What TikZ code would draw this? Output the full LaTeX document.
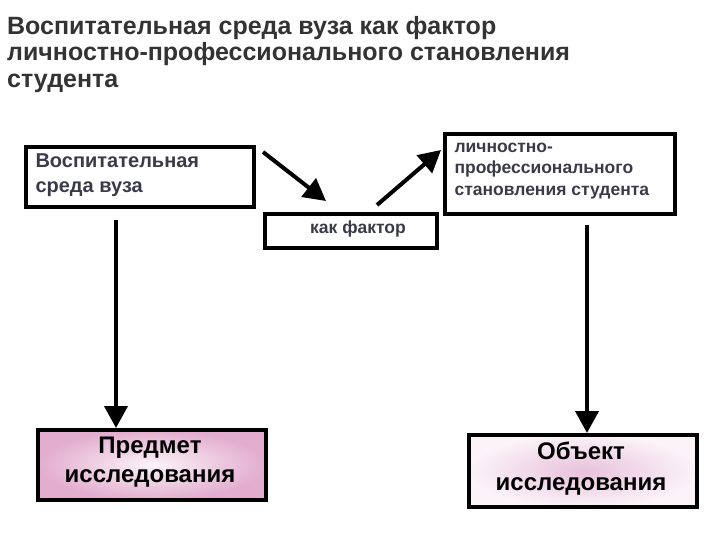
\documentclass[tikz,border=0pt]{standalone}
\usepackage{fontspec}
\setmainfont{Liberation Sans}
\usetikzlibrary{arrows.meta}
\definecolor{titlegray}{HTML}{333333}
\definecolor{boxtext}{HTML}{3A3A48}
\definecolor{pinkA}{HTML}{E4B6D6}
\definecolor{pinkB}{HTML}{FBF3F8}
\tikzset{
  box/.style={draw=black, line width=4pt, rectangle, anchor=north west, inner sep=0pt},
  arr/.style={line width=4pt, -{Triangle[length=22pt,width=23pt]}},
  boxlabel/.style={font=\bfseries\fontsize{20}{25}\selectfont, color=boxtext, align=left, anchor=west},
  pinkbox/.style={box}
}
\begin{document}
\begin{tikzpicture}[x=1pt,y=-1pt]
\useasboundingbox (0,0) rectangle (720,540);
% title
\node[anchor=north west, align=left, inner sep=0pt, color=titlegray,
      font=\bfseries\fontsize{25}{26.5}\selectfont] (title) at (7,16)
  {Воспитательная среда вуза как фактор\\личностно-профессионального становления\\студента};
% boxes
\node[box, minimum width=228pt, minimum height=60pt] (b1) at (24,145) {};
\node[boxlabel] (t1) at (32,175) {Воспитательная\\среда вуза};
\node[box, minimum width=172pt, minimum height=34pt] (b2) at (263,212) {};
\node[font=\bfseries\fontsize{17.5}{21}\selectfont, color=boxtext] (t2) at (358,229) {как фактор};
\node[box, minimum width=230pt, minimum height=80pt] (b3) at (443,132) {};
\node[font=\bfseries\fontsize{17.5}{21.5}\selectfont, color=boxtext, align=left, anchor=west] (t3) at (451,171)
  {личностно-\\профессионального\\становления студента};
\node[pinkbox, minimum width=228pt, minimum height=70pt, inner color=pinkB, outer color=pinkA!95!purple] (b4) at (36,428) {};
\node[font=\bfseries\fontsize{24}{29}\selectfont, align=center] (t4) at (150,462) {Предмет\\исследования};
\node[pinkbox, minimum width=228pt, minimum height=72pt, inner color=pinkA!85, outer color=pinkB] (b5) at (467,433) {};
\node[font=\bfseries\fontsize{24}{31}\selectfont, align=center] (t5) at (581,469) {Объект\\исследования};
% arrow ends
\coordinate (a1s) at (263,152);
\coordinate (a1e) at (326,201);
\coordinate (a2s) at (377,205);
\coordinate (a2e) at (441,150);
\coordinate (a3s) at (116,220);
\coordinate (a4s) at (587,225);
\draw[arr] (a1s) -- (a1e);
\draw[arr] (a2s) -- (a2e);
\draw[arr] (a3s) -- (b4.north -| a3s);
\draw[arr] (a4s) -- (b5.north -| a4s);
\end{tikzpicture}
\end{document}
